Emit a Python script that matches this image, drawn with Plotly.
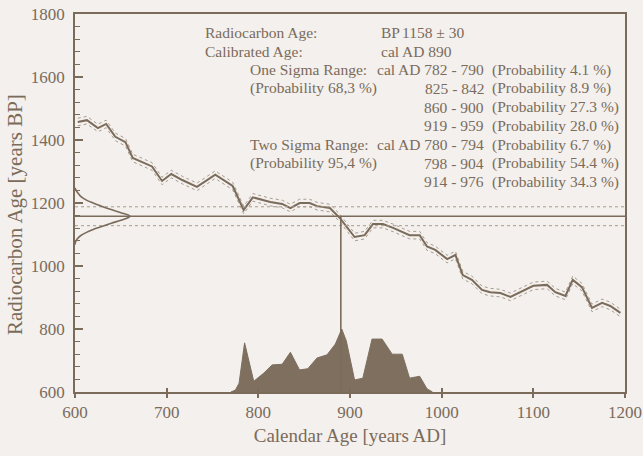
import plotly.graph_objects as go

# Calibration curve (calendar year AD -> radiocarbon age BP)
cal_years = [603, 613, 625, 634, 644, 655, 663, 684, 695, 705, 717, 733, 753,
             772, 784, 794, 813, 826, 835, 845, 856, 864, 878, 889, 905, 916,
             925, 936, 947, 965, 976, 984, 993, 1006, 1015, 1023, 1033, 1044,
             1053, 1064, 1075, 1085, 1100, 1115, 1124, 1135, 1143, 1153, 1164,
             1175, 1184, 1195]
cal_bp = [1457, 1463, 1438, 1451, 1410, 1393, 1343, 1316, 1270, 1292, 1273,
          1251, 1290, 1254, 1178, 1218, 1203, 1197, 1184, 1200, 1200, 1190,
          1184, 1152, 1092, 1098, 1133, 1133, 1121, 1098, 1098, 1062, 1051,
          1022, 1035, 971, 956, 924, 917, 914, 902, 917, 937, 940, 917, 905,
          956, 933, 867, 883, 873, 851]
cal_err = 12

# Measurement
measured_bp = 1158
measured_err = 30
calibrated_ad = 890

# Measured age distribution (radiocarbon age BP, relative density)
gauss_bp = [1248, 1240, 1230, 1220, 1210, 1200, 1190, 1180, 1170, 1158,
            1146, 1136, 1126, 1116, 1106, 1096, 1086, 1076, 1068]
gauss_rel = [0.0, 0.02, 0.06, 0.11, 0.2, 0.33, 0.48, 0.64, 0.82, 1.0,
             0.85, 0.66, 0.5, 0.33, 0.2, 0.1, 0.04, 0.01, 0.0]

# Calibrated age distribution (calendar year AD, relative probability)
prob_years = [770, 775, 779, 785, 795, 806, 815, 826, 835, 845, 854, 864,
              875, 884, 891, 896, 905, 914, 924, 935, 946, 957, 965, 976,
              984, 990]
prob_rel = [0.0, 0.03, 0.14, 0.78, 0.17, 0.30, 0.43, 0.44, 0.63, 0.35, 0.37,
            0.54, 0.59, 0.76, 1.0, 0.81, 0.19, 0.22, 0.84, 0.84, 0.60, 0.60,
            0.22, 0.25, 0.05, 0.0]

# Summary text
sigma1_ranges = ["cal AD 782 - 790", "825 - 842", "860 - 900", "919 - 959"]
sigma1_probs = ["(Probability 4.1 %)", "(Probability 8.9 %)",
                "(Probability 27.3 %)", "(Probability 28.0 %)"]
sigma2_ranges = ["cal AD 780 - 794", "798 - 904", "914 - 976"]
sigma2_probs = ["(Probability 6.7 %)", "(Probability 54.4 %)",
                "(Probability 34.3 %)"]

INK = "#7b6b5b"
LIGHT = "#a99b8c"
BG = "#f3f0ed"
FONT = "Liberation Serif"

X0, X1 = 600, 1200
Y0, Y1 = 600, 1800
GAUSS_W = 60      # width of the measured-age curve, in calendar years
PROB_H = 200      # height of the calibrated distribution, in BP units

fig = go.Figure()

# calibration curve envelope and centre line
fig.add_trace(go.Scatter(x=cal_years, y=[v + cal_err for v in cal_bp],
                         mode="lines", line=dict(color=LIGHT, width=1, dash="dot")))
fig.add_trace(go.Scatter(x=cal_years, y=[v - cal_err for v in cal_bp],
                         mode="lines", line=dict(color=LIGHT, width=1, dash="dot")))
fig.add_trace(go.Scatter(x=cal_years, y=cal_bp, mode="lines",
                         line=dict(color=INK, width=2)))

# measured age and its one-sigma band
fig.add_trace(go.Scatter(x=[X0, X1], y=[measured_bp + measured_err] * 2, mode="lines",
                         line=dict(color=LIGHT, width=1, dash="dot")))
fig.add_trace(go.Scatter(x=[X0, X1], y=[measured_bp - measured_err] * 2, mode="lines",
                         line=dict(color=LIGHT, width=1, dash="dot")))
fig.add_trace(go.Scatter(x=[X0, X1], y=[measured_bp] * 2, mode="lines",
                         line=dict(color=INK, width=1.6)))

# measured age distribution along the y axis
fig.add_trace(go.Scatter(x=[X0 + r * GAUSS_W for r in gauss_rel], y=gauss_bp,
                         mode="lines", line=dict(color=INK, width=1.6, shape="spline")))

# calibrated age distribution along the x axis
fig.add_trace(go.Scatter(x=prob_years, y=[Y0 + r * PROB_H for r in prob_rel],
                         mode="lines", fill="toself", fillcolor="#7e6f5e",
                         line=dict(color="#7e6f5e", width=1)))

# calibrated age marker
fig.add_trace(go.Scatter(x=[calibrated_ad] * 2, y=[Y0, measured_bp], mode="lines",
                         line=dict(color=INK, width=1.6)))

# text block
L, T, PW, PH = 75, 14, 550, 378


def px(xp):
    return (xp - L) / PW


def py(yp):
    return 1 - (yp - T) / PH


row_y = [32.3 + 18.7 * i for i in range(9)]
ann = []


def put(text, xp, row, anchor="left"):
    ann.append(dict(text=text, x=px(xp), y=py(row_y[row]), xref="paper", yref="paper",
                    xanchor=anchor, yanchor="middle", showarrow=False,
                    font=dict(family=FONT, size=15.5, color=INK)))


put("Radiocarbon Age:", 203, 0)
put("Calibrated Age:", 203, 1)
put("One Sigma Range:", 248, 2)
put("(Probability 68,3 %)", 248, 3)
put("Two Sigma Range:", 248, 6)
put("(Probability 95,4 %)", 248, 7)
put("BP", 379, 0)
put(f"{measured_bp} ± {measured_err}", 400, 0)
put(f"cal AD {calibrated_ad}", 379, 1)
for i, (r, p) in enumerate(zip(sigma1_ranges + sigma2_ranges, sigma1_probs + sigma2_probs)):
    put(r, 486, 2 + i, "right")
    put(p, 490, 2 + i)

# y axis title, set slightly below the axis centre
ann.append(dict(text="Radiocarbon Age [years BP]", textangle=-90,
                x=px(15), y=py(215), xref="paper", yref="paper",
                xanchor="center", yanchor="middle", showarrow=False,
                font=dict(family=FONT, size=21, color=INK)))

fig.update_layout(
    width=643, height=456,
    margin=dict(l=L, r=643 - L - PW, t=T, b=456 - T - PH),
    paper_bgcolor=BG, plot_bgcolor=BG,
    showlegend=False,
    font=dict(family=FONT, color=INK, size=15),
    annotations=ann,
    xaxis=dict(range=[X0, X1], dtick=100, tick0=600, showgrid=False, zeroline=False,
               automargin=False,
               showline=True, linecolor=INK, linewidth=1.5, mirror=True,
               ticks="outside", ticklen=4, tickwidth=1.5, tickcolor=INK,
               tickfont=dict(family=FONT, size=17, color=INK),
               title=dict(text="Calendar Age [years AD]", standoff=8,
                          font=dict(family=FONT, size=19, color=INK))),
    xaxis2=dict(range=[X0, X1], dtick=100, tick0=600, overlaying="x",
                automargin=False,
                showgrid=False, zeroline=False, showticklabels=False,
                ticks="inside", ticklen=4, tickwidth=1.5, tickcolor=INK),
    yaxis=dict(range=[Y0, Y1], dtick=200, tick0=600, showgrid=False, zeroline=False,
               automargin=False,
               showline=True, linecolor=INK, linewidth=1.5, mirror=True,
               ticks="inside", ticklen=8, tickwidth=1.5, tickcolor=INK,
               ticklabelstandoff=5,
               minor=dict(dtick=40, ticks="inside", ticklen=5, tickwidth=1, tickcolor=INK),
               tickfont=dict(family=FONT, size=17, color=INK)),
)

# invisible trace attaching the secondary x axis (inner tick marks)
fig.add_trace(go.Scatter(x=[X0], y=[Y0], xaxis="x2", mode="markers",
                         marker=dict(opacity=0), hoverinfo="skip"))

fig.write_html("out.html")
